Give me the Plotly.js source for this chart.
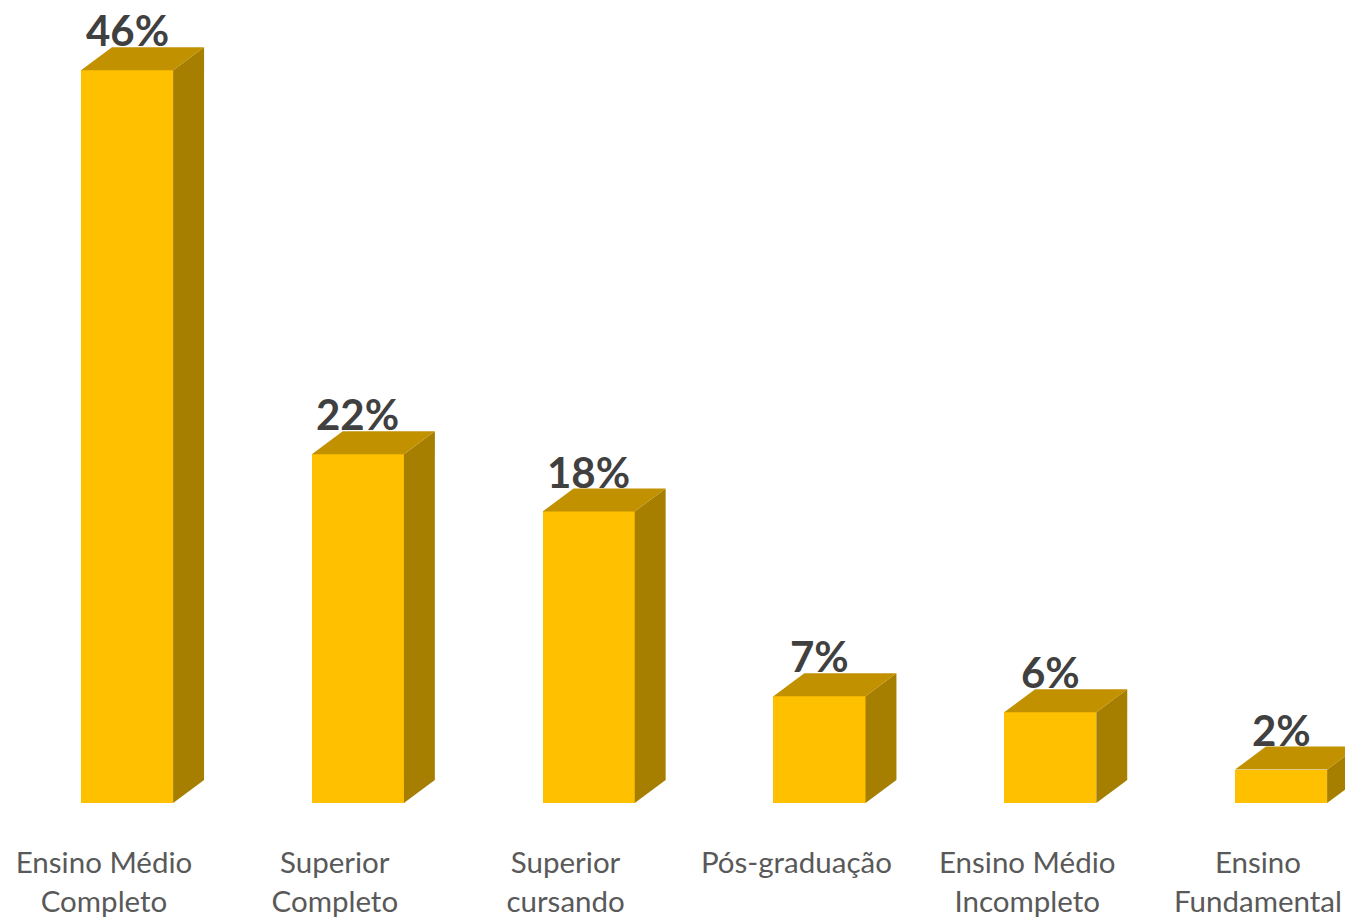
<!DOCTYPE html>
<html>
<head>
<meta charset="utf-8">
<script src="https://cdn.plot.ly/plotly-3.0.1.min.js"></script>
<style>html,body{margin:0;padding:0;background:#fff;}#chart{width:1345px;height:917px;}</style>
</head>
<body>
<div id="chart"></div>
<script>
// Data
const categories = ["Ensino Médio<br>Completo", "Superior<br>Completo", "Superior<br>cursando", "Pós-graduação", "Ensino Médio<br>Incompleto", "Ensino<br>Fundamental"];
const values = [46, 21.9, 18.3, 6.7, 5.7, 2.1];
const valueLabels = ["46%", "22%", "18%", "7%", "6%", "2%"];

// Style / geometry (pseudo-3D)
const FRONT = "#FFC000", TOP = "#C29100", SIDE = "#A67E00";
const off = 0.1;      // front face offset from category centre
const w = 0.399;      // front face width (axis units)
const dx = 0.134;     // depth offset x (axis units)
const dy = 1.44;      // depth offset y (value units)

const idx = categories.map((_, i) => i);
const xs = idx.map(i => i + off);

const traces = [];
traces.push({
  type: "bar", x: xs, y: values, width: w,
  marker: {color: FRONT, line: {width: 0}},
  hoverinfo: "skip", showlegend: false
});
values.forEach((v, i) => {
  const xl = xs[i] - w / 2, xr = xs[i] + w / 2;
  traces.push({
    type: "scatter", mode: "lines", fill: "toself", fillcolor: SIDE,
    line: {width: 0, color: SIDE},
    x: [xr, xr + dx, xr + dx, xr, xr],
    y: [0, dy, v + dy, v, 0],
    hoverinfo: "skip", showlegend: false
  });
  traces.push({
    type: "scatter", mode: "lines", fill: "toself", fillcolor: TOP,
    line: {width: 0, color: TOP},
    x: [xl, xr, xr + dx, xl + dx, xl],
    y: [v, v, v + dy, v + dy, v],
    hoverinfo: "skip", showlegend: false
  });
});

const annotations = values.map((v, i) => ({
  x: xs[i], y: v + dy, xref: "x", yref: "y",
  text: "<b>" + valueLabels[i] + "</b>", showarrow: false,
  yanchor: "bottom", yshift: -10,
  font: {family: "Lato, sans-serif", size: 42, color: "#404040"}
}));

const layout = {
  width: 1345, height: 917,
  margin: {l: 0, r: 0, t: 0, b: 114, pad: 0},
  paper_bgcolor: "#fff", plot_bgcolor: "#fff",
  showlegend: false, hovermode: false,
  bargap: 0,
  xaxis: {
    range: [-0.4506, 5.377], tickmode: "array", tickvals: idx, ticktext: categories,
    showgrid: false, zeroline: false, showline: false,
    ticks: "outside", ticklen: 34, tickcolor: "rgba(0,0,0,0)",
    tickfont: {family: "Lato, sans-serif", size: 29.5, color: "#595959"},
    fixedrange: true
  },
  yaxis: {
    range: [0, 50.41], visible: false, showgrid: false, zeroline: false, fixedrange: true
  },
  annotations: annotations
};

Plotly.newPlot("chart", traces, layout, {displayModeBar: false, staticPlot: true});
</script>
</body>
</html>
